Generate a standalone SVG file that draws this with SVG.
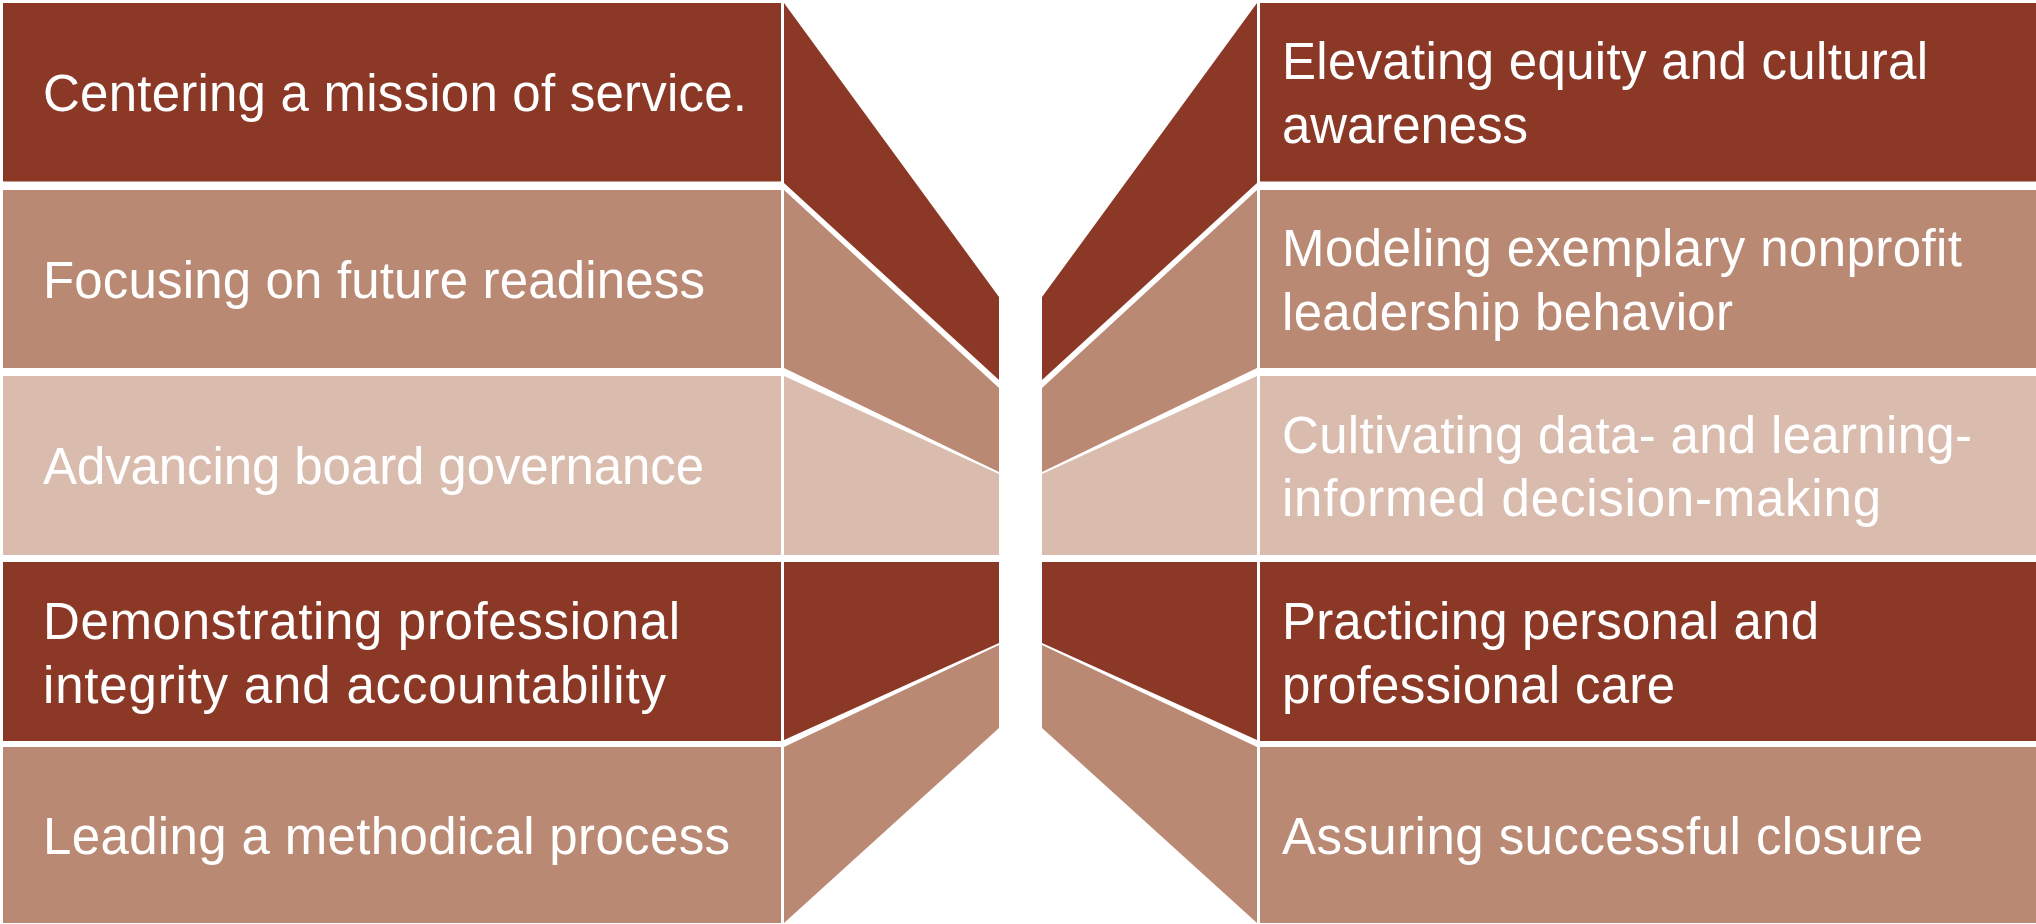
<svg xmlns="http://www.w3.org/2000/svg" width="2036" height="924" viewBox="0 0 2036 924">
<style>
.d{fill:#8B3926}
.m{fill:#BA8973}
.l{fill:#DABCAF}
text{font-family:"Liberation Sans",Arial,sans-serif;font-size:51px;fill:#FFFFFF}
</style>
<rect x="0" y="0" width="2036" height="924" fill="#FFFFFF"/>
<g id="connectors">
<polygon class="d" points="784,3 999,297 999,380 784,183"/>
<polygon class="m" points="784,190 999,388 999,472 784,368"/>
<polygon class="l" points="784,376 999,474 999,555 784,555"/>
<polygon class="d" points="784,562 999,562 999,643 784,740"/>
<polygon class="m" points="784,747 999,645 999,728 784,923"/>
<polygon class="d" points="1257,3 1042,297 1042,380 1257,183"/>
<polygon class="m" points="1257,190 1042,388 1042,472 1257,368"/>
<polygon class="l" points="1257,376 1042,474 1042,555 1257,555"/>
<polygon class="d" points="1257,562 1042,562 1042,643 1257,740"/>
<polygon class="m" points="1257,747 1042,645 1042,728 1257,923"/>
</g>
<g id="n1"><rect class="d" x="3" y="3" width="778" height="178.5"/><text x="43" y="111" textLength="704">Centering a mission of service.</text></g>
<g id="n2"><rect class="m" x="3" y="190" width="778" height="178"/><text x="43" y="298" textLength="662">Focusing on future readiness</text></g>
<g id="n3"><rect class="l" x="3" y="376" width="778" height="179"/><text x="43" y="484" textLength="661">Advancing board governance</text></g>
<g id="n4"><rect class="d" x="3" y="562" width="778" height="179"/><text x="43" y="639" textLength="637">Demonstrating professional</text><text x="43" y="703" textLength="623">integrity and accountability</text></g>
<g id="n5"><rect class="m" x="3" y="747" width="778" height="176"/><text x="43" y="854" textLength="687">Leading a methodical process</text></g>
<g id="n6"><rect class="d" x="1260" y="3" width="776" height="178.5"/><text x="1282" y="79" textLength="646">Elevating equity and cultural</text><text x="1282" y="143" textLength="246">awareness</text></g>
<g id="n7"><rect class="m" x="1260" y="190" width="776" height="178"/><text x="1282" y="266" textLength="680">Modeling exemplary nonprofit</text><text x="1282" y="330" textLength="451">leadership behavior</text></g>
<g id="n8"><rect class="l" x="1260" y="376" width="776" height="179"/><text x="1282" y="453" textLength="690">Cultivating data- and learning-</text><text x="1282" y="516" textLength="599">informed decision-making</text></g>
<g id="n9"><rect class="d" x="1260" y="562" width="776" height="179"/><text x="1282" y="639" textLength="537">Practicing personal and</text><text x="1282" y="703" textLength="393">professional care</text></g>
<g id="n10"><rect class="m" x="1260" y="747" width="776" height="176"/><text x="1282" y="854" textLength="641">Assuring successful closure</text></g>
</svg>
